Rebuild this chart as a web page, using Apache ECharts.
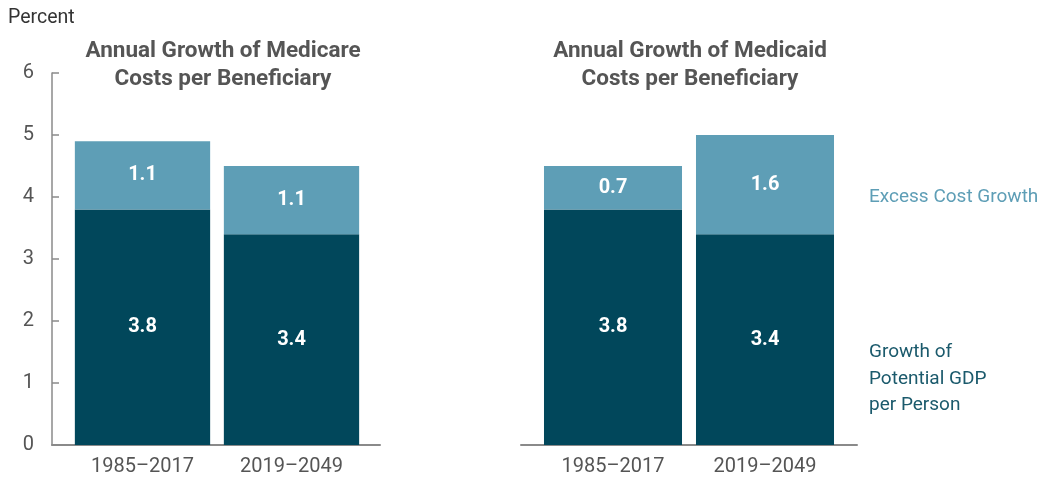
<!DOCTYPE html>
<html><head><meta charset="utf-8">
<script src="https://cdn.jsdelivr.net/npm/echarts@6/dist/echarts.min.js"></script>
<style>html,body{margin:0;padding:0;background:#fff}#c{width:1043px;height:478px}</style>
</head><body><div id="c"></div>
<script>
const periods = ['1985–2017', '2019–2049'];
const medicareGdp = [3.8, 3.4];
const medicareExcess = [1.1, 1.1];
const medicaidGdp = [3.8, 3.4];
const medicaidExcess = [0.7, 1.6];
const titles = ['Annual Growth of Medicare\nCosts per Beneficiary', 'Annual Growth of Medicaid\nCosts per Beneficiary'];
const legendNames = ['Excess Cost Growth', 'Growth of\nPotential GDP\nper Person'];

const DARK = '#01475B', LIGHT = '#5E9EB6';
const FONT = 'Roboto, "Liberation Sans", sans-serif';
const chart = echarts.init(document.getElementById('c'), null, {renderer: 'canvas'});

const gTop = 73, gBottom = 33;
const frameAxis = (idx) => ({
  type: 'category', gridIndex: idx, data: periods,
  axisLine: {show: true, lineStyle: {color: '#8a8a8a', width: 2}},
  axisTick: {show: false}, axisLabel: {show: false}
});
const barAxis = (idx) => ({
  type: 'category', gridIndex: idx, data: periods,
  axisLine: {show: false}, axisTick: {show: false},
  axisLabel: {show: true, color: '#555', fontSize: 20, fontFamily: FONT, margin: 12}
});
const hiddenY = (idx) => ({type: 'value', gridIndex: idx, min: 0, max: 6, interval: 1, show: false});

function barSeries(name, data, color, idx) {
  return {
    name, type: 'bar', stack: 's' + idx, data, xAxisIndex: idx, yAxisIndex: idx,
    barCategoryGap: '9.2%',
    itemStyle: {color},
    label: {show: true, position: 'inside', color: '#fff', fontWeight: 'bold', fontSize: 20, fontFamily: FONT,
      formatter: p => p.value.toFixed(1)},
    emphasis: {disabled: true}
  };
}

chart.setOption({
  animation: false,
  textStyle: {fontFamily: FONT},
  grid: [
    {left: 52, width: 328, top: gTop, bottom: gBottom},
    {left: 68, width: 298, top: gTop, bottom: gBottom},
    {left: 521, width: 336, top: gTop, bottom: gBottom},
    {left: 537, width: 304, top: gTop, bottom: gBottom}
  ],
  xAxis: [frameAxis(0), barAxis(1), frameAxis(2), barAxis(3)],
  yAxis: [
    {type: 'value', gridIndex: 0, min: 0, max: 6, interval: 1,
      axisLine: {show: true, lineStyle: {color: '#8a8a8a', width: 1.5}},
      axisTick: {show: true, inside: true, length: 7, lineStyle: {color: '#8a8a8a', width: 1.5}},
      splitLine: {show: false},
      axisLabel: {color: '#555', fontSize: 20, fontFamily: FONT, margin: 18}},
    hiddenY(1), hiddenY(2), hiddenY(3)
  ],
  series: [
    barSeries('gdp', medicareGdp, DARK, 1),
    barSeries('excess', medicareExcess, LIGHT, 1),
    barSeries('gdp', medicaidGdp, DARK, 3),
    barSeries('excess', medicaidExcess, LIGHT, 3)
  ],
  graphic: [
    {type: 'text', left: 8, top: 8, style: {text: 'Percent', fill: '#333', fontSize: 19.5, fontFamily: FONT}},
    {type: 'text', x: 223, y: 37, style: {text: titles[0], fill: '#555', fontSize: 22.5, fontWeight: 'bold', fontFamily: FONT, align: 'center', lineHeight: 28}},
    {type: 'text', x: 690, y: 37, style: {text: titles[1], fill: '#555', fontSize: 22.5, fontWeight: 'bold', fontFamily: FONT, align: 'center', lineHeight: 28}},
    {type: 'text', x: 869, y: 188, style: {text: legendNames[0], fill: LIGHT, fontSize: 19, fontFamily: FONT}},
    {type: 'text', x: 869, y: 339, style: {text: legendNames[1], fill: '#1B5A6C', fontSize: 19, fontFamily: FONT, lineHeight: 26.5}}
  ]
});
</script></body></html>
